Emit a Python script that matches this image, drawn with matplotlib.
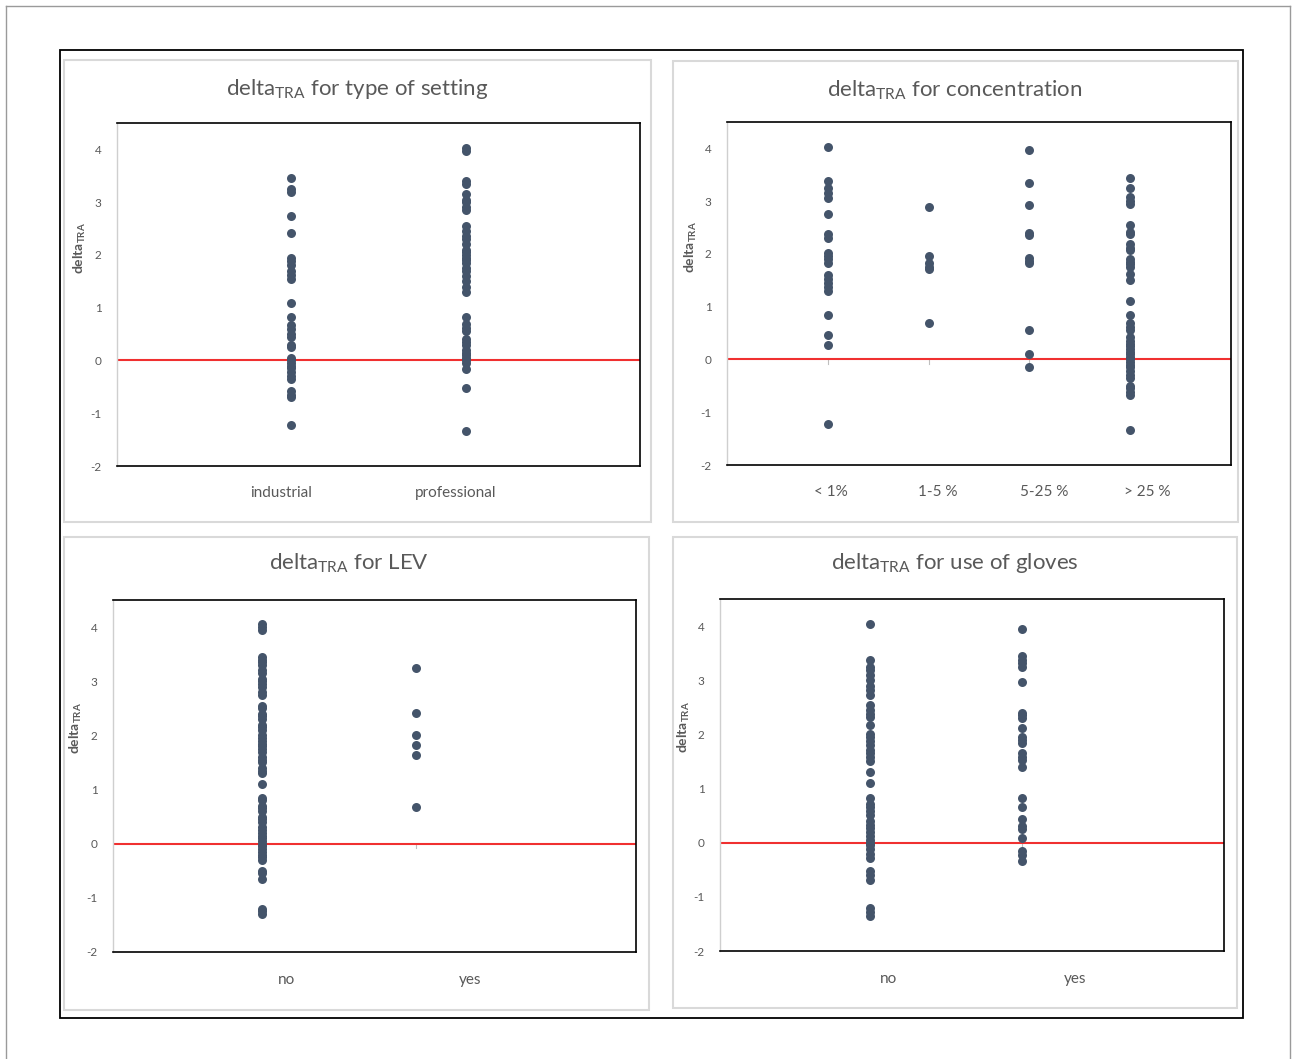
import numpy as np
import matplotlib
matplotlib.use('Agg')
import matplotlib.pyplot as plt
from matplotlib.patches import Rectangle
from matplotlib.lines import Line2D
import matplotlib.transforms as mtransforms

plt.rcParams['font.family'] = ['Lato', 'DejaVu Sans']
plt.rcParams['mathtext.default'] = 'regular'
plt.rcParams['axes.unicode_minus'] = False

# values
setting_cats = ['industrial', 'professional']
setting_industrial = [3.45, 3.25, 3.2, 2.73, 2.42, 1.95, 1.88, 1.8, 1.7, 1.62, 1.55, 1.08, 0.83,
                      0.68, 0.6, 0.5, 0.45, 0.3, 0.25, 0.05, 0.0, -0.05, -0.1, -0.15, -0.22, -0.3,
                      -0.35, -0.58, -0.65, -0.7, -1.22]
setting_professional = [4.03, 3.97, 3.4, 3.35, 3.15, 3.05, 3.0, 2.9, 2.85, 2.55, 2.45, 2.35, 2.3,
                        2.2, 2.1, 2.05, 2.0, 1.95, 1.9, 1.85, 1.75, 1.7, 1.6, 1.5, 1.4, 1.3, 0.83,
                        0.7, 0.62, 0.55, 0.4, 0.35, 0.3, 0.2, 0.15, 0.1, 0.05, 0.0, -0.05, -0.17,
                        -0.52, -1.33]

conc_cats = ['< 1%', '1-5 %', '5-25 %', '> 25 %']
conc_lt1 = [4.02, 3.38, 3.25, 3.15, 3.06, 2.75, 2.38, 2.3, 2.02, 1.97, 1.9, 1.82, 1.6, 1.52,
            1.45, 1.38, 1.3, 0.85, 0.46, 0.27, -1.23]
conc_1to5 = [2.89, 1.97, 1.82, 1.76, 1.72, 0.7]
conc_5to25 = [3.96, 3.35, 2.92, 2.4, 2.36, 1.93, 1.87, 1.82, 0.56, 0.1, -0.14]
conc_gt25 = [3.44, 3.24, 3.08, 3.0, 2.94, 2.55, 2.42, 2.38, 2.18, 2.12, 2.08, 1.9, 1.85, 1.8,
             1.75, 1.62, 1.5, 1.1, 0.85, 0.7, 0.62, 0.55, 0.42, 0.35, 0.3, 0.25, 0.2, 0.15,
             0.1, 0.05, 0.0, -0.05, -0.1, -0.15, -0.22, -0.3, -0.36, -0.5, -0.55, -0.62,
             -0.68, -1.33]

lev_cats = ['no', 'yes']
lev_no = [4.05, 4.0, 3.95, 3.45, 3.4, 3.35, 3.3, 3.2, 3.15, 3.05, 3.0, 2.95, 2.9, 2.8, 2.75,
          2.55, 2.5, 2.4, 2.35, 2.3, 2.2, 2.15, 2.1, 2.0, 1.95, 1.9, 1.85, 1.8, 1.75, 1.7, 1.6,
          1.55, 1.5, 1.4, 1.35, 1.3, 1.1, 0.85, 0.8, 0.7, 0.65, 0.6, 0.5, 0.45, 0.4, 0.3, 0.25,
          0.2, 0.15, 0.1, 0.05, 0.0, -0.05, -0.1, -0.15, -0.2, -0.25, -0.3, -0.5, -0.55,
          -0.65, -1.2, -1.25, -1.3]
lev_yes = [3.25, 2.41, 2.0, 1.82, 1.63, 0.67]

gloves_cats = ['no', 'yes']
gloves_no = [4.03, 3.38, 3.25, 3.18, 3.1, 3.0, 2.9, 2.82, 2.72, 2.55, 2.45, 2.38, 2.32, 2.17,
             2.0, 1.95, 1.88, 1.8, 1.72, 1.65, 1.58, 1.5, 1.3, 1.11, 0.83, 0.72, 0.65, 0.58,
             0.52, 0.4, 0.33, 0.28, 0.2, 0.12, 0.05, 0.0, -0.05, -0.12, -0.2, -0.28, -0.52,
             -0.6, -0.68, -1.2, -1.28, -1.35]
gloves_yes = [3.95, 3.45, 3.38, 3.32, 3.24, 2.97, 2.4, 2.35, 2.3, 2.12, 1.95, 1.9, 1.85, 1.65,
              1.58, 1.52, 1.4, 0.83, 0.66, 0.44, 0.3, 0.25, 0.08, -0.15, -0.22, -0.33]

W, H = 1292, 1059
GREY = '#595959'
DOT = '#44546A'

fig = plt.figure(figsize=(W / 100, H / 100), dpi=100)


def box(x0, y0, x1, y1):
    # pixel box -> figure fraction [left, bottom, width, height]
    return [x0 / W, 1 - y1 / H, (x1 - x0) / W, (y1 - y0) / H]


def panel(rect, title, cats, series, xlim, label_x, title_xy):
    ax = fig.add_axes(box(*rect))
    for i, vals in enumerate(series):
        ax.scatter(np.full(len(vals), i + 1), vals, s=42, color=DOT, linewidths=0, zorder=3)
        ax.plot([i + 1, i + 1], [0, -0.08], color='#bfbfbf', lw=0.8, zorder=1)
    ax.axhline(0, color='#f03030', lw=1.5, zorder=2)
    ax.set_xlim(*xlim)
    ax.set_ylim(-2, 4.5)
    ax.set_xticks([])
    ax.set_yticks(range(-2, 5))
    ax.tick_params(axis='y', length=0, pad=11, labelsize=8.5, labelcolor=GREY)
    for s in ['top', 'right', 'bottom']:
        ax.spines[s].set_color('black')
        ax.spines[s].set_linewidth(1.2)
    ax.spines['left'].set_color('#cfcfcf')
    ax.spines['left'].set_linewidth(1.0)
    ax.set_ylabel('delta$_{TRA}$', fontsize=10, color=GREY, fontweight='bold')
    ax.yaxis.set_label_coords(-0.055, 0.635)
    trans = mtransforms.blended_transform_factory(ax.transData, ax.transAxes)
    for lx, c in zip(label_x, cats):
        ax.text(lx, -0.08, c, transform=trans, ha='center', va='center',
                fontsize=11, color=GREY)
    fig.text(title_xy[0] / W, 1 - title_xy[1] / H, 'delta$_{TRA}$ for ' + title,
             ha='center', va='center', fontsize=16, color=GREY)
    return ax


# light grey chart-area frames
for x0, y0, x1, y1 in [(64, 60, 651, 522), (673, 61, 1238, 522),
                       (64, 537, 649, 1010), (673, 537, 1237, 1008)]:
    fig.patches.append(Rectangle((x0 / W, 1 - y1 / H), (x1 - x0) / W, (y1 - y0) / H,
                                 transform=fig.transFigure, fill=False,
                                 edgecolor='#d9d9d9', lw=1.5))

panel((117, 123, 640, 466), 'type of setting', setting_cats,
      [setting_industrial, setting_professional], (0, 3), [0.94, 1.945], (357, 89))
panel((727, 122, 1231, 465), 'concentration', conc_cats,
      [conc_lt1, conc_1to5, conc_5to25, conc_gt25], (0, 5), [1.03, 2.09, 3.15, 4.17], (955, 90))
panel((113, 600, 636, 952), 'LEV', lev_cats,
      [lev_no, lev_yes], (0.032, 3.43), [1.16, 2.35], (349, 563))
panel((720, 599, 1224, 951), 'use of gloves', gloves_cats,
      [gloves_no, gloves_yes], (0.013, 3.33), [1.12, 2.35], (955, 563))

# outer black frame
fig.patches.append(Rectangle((60 / W, 1 - 1018 / H), (1243 - 60) / W, (1018 - 50) / H,
                             transform=fig.transFigure, fill=False, edgecolor='black', lw=1.3))
# page border
for xs, ys in [([6, 6], [6, H]), ([6, 1290], [6, 6]), ([1290, 1290], [6, H])]:
    fig.lines.append(Line2D([x / W for x in xs], [1 - y / H for y in ys],
                            transform=fig.transFigure, color='#9a9a9a', lw=1.0))

fig.savefig('out.png', dpi=100, facecolor='white')
